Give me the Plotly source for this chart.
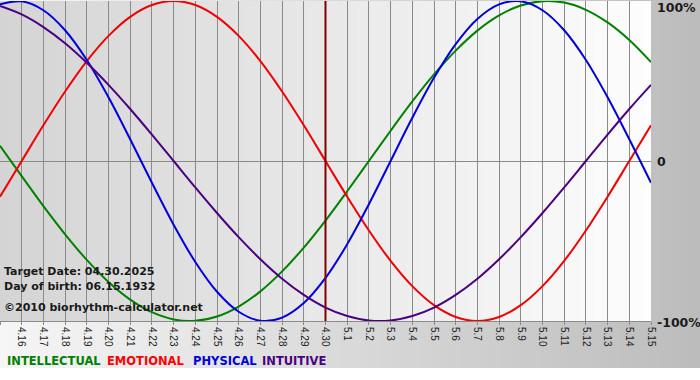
import plotly.graph_objects as go

# ---- data ----
day_labels = ["4.15", "4.16", "4.17", "4.18", "4.19", "4.20", "4.21", "4.22", "4.23", "4.24",
              "4.25", "4.26", "4.27", "4.28", "4.29", "4.30", "5.1", "5.2", "5.3", "5.4",
              "5.5", "5.6", "5.7", "5.8", "5.9", "5.10", "5.11", "5.12", "5.13", "5.14", "5.15"]

physical = [0.979, 0.998, 0.942, 0.817, 0.631, 0.398, 0.136, -0.136, -0.398, -0.631,
            -0.817, -0.942, -0.998, -0.979, -0.888, -0.731, -0.520, -0.270, 0.000, 0.270,
            0.520, 0.731, 0.888, 0.979, 0.998, 0.942, 0.817, 0.631, 0.398, 0.136, -0.136]

emotional = [-0.223, 0.000, 0.223, 0.434, 0.624, 0.782, 0.901, 0.975, 1.000, 0.975,
             0.901, 0.782, 0.624, 0.434, 0.223, 0.000, -0.223, -0.434, -0.624, -0.782,
             -0.901, -0.975, -1.000, -0.975, -0.901, -0.782, -0.624, -0.434, -0.223, 0.000, 0.223]

intellectual = [0.095, -0.095, -0.282, -0.458, -0.618, -0.756, -0.866, -0.945, -0.990, -0.999,
                -0.972, -0.910, -0.815, -0.690, -0.541, -0.372, -0.189, 0.000, 0.189, 0.372,
                0.541, 0.690, 0.815, 0.910, 0.972, 0.999, 0.990, 0.945, 0.866, 0.756, 0.618]

intuitive = [0.969, 0.916, 0.837, 0.736, 0.614, 0.476, 0.325, 0.165, 0.000, -0.165,
             -0.325, -0.476, -0.614, -0.736, -0.837, -0.916, -0.969, -0.997, -0.997, -0.969,
             -0.916, -0.837, -0.736, -0.614, -0.476, -0.325, -0.165, 0.000, 0.165, 0.325, 0.476]

series_names = ["INTELLECTUAL", "EMOTIONAL", "PHYSICAL", "INTUITIVE"]
target_index = 15  # 4.30
info_lines = ["Target Date: 04.30.2025", "Day of birth: 06.15.1932"]
copyright_text = "\u00a92010 biorhythm-calculator.net"
y_labels = ["100%", "0", "-100%"]

# ---- figure ----
W, H = 700, 380
ML, MR, MT, MB = 0, 49, 1, 59
PW = W - ML - MR
PH = H - MT - MB

def px_x(px):
    return (px - ML) / PW

def px_y(py):
    return (H - MB - py) / PH

def lerp_hex(c0, c1, t):
    a = [int(c0[i:i + 2], 16) for i in (1, 3, 5)]
    b = [int(c1[i:i + 2], 16) for i in (1, 3, 5)]
    c = [round(a[k] + (b[k] - a[k]) * t) for k in range(3)]
    return "#%02x%02x%02x" % tuple(c)

shapes = []
# outer background gradient (light left -> darker right)
n_out = 70
for i in range(n_out):
    x0 = W * i / n_out
    x1 = W * (i + 1) / n_out + 1
    shapes.append(dict(type="rect", xref="paper", yref="paper",
                       x0=px_x(x0), x1=px_x(x1), y0=px_y(368), y1=px_y(-2),
                       fillcolor=lerp_hex("#f6f6f6", "#bcbcbc", (i + 0.5) / n_out),
                       line=dict(width=0), layer="below"))
# plot area gradient (darker left -> light right)
n_in = 93
for i in range(n_in):
    x0 = PW * i / n_in
    x1 = min(PW * (i + 1) / n_in + 1, PW)
    shapes.append(dict(type="rect", xref="paper", yref="paper",
                       x0=x0 / PW, x1=x1 / PW, y0=0, y1=1,
                       fillcolor=lerp_hex("#d4d4d4", "#fdfdfd", (i + 0.5) / n_in),
                       line=dict(width=0), layer="below"))
# target date marker
shapes.append(dict(type="line", xref="x", yref="paper", x0=target_index, x1=target_index,
                   y0=0, y1=1, line=dict(color="#800000", width=2), layer="above",
                   opacity=1))

x_idx = list(range(len(day_labels)))
colors = {"INTELLECTUAL": "#008000", "EMOTIONAL": "#f00000",
          "PHYSICAL": "#0000dd", "INTUITIVE": "#4b0082"}
values = {"INTELLECTUAL": intellectual, "EMOTIONAL": emotional,
          "PHYSICAL": physical, "INTUITIVE": intuitive}

fig = go.Figure()
for name in series_names:
    fig.add_trace(go.Scatter(x=x_idx, y=values[name], mode="lines", name=name,
                             line=dict(color=colors[name], width=2, shape="spline",
                                       smoothing=1.0),
                             hoverinfo="skip"))

annotations = []
for i, t in enumerate(info_lines):
    annotations.append(dict(text="<b>%s</b>" % t, xref="paper", yref="paper",
                            x=px_x(2), y=px_y([271, 286][i]), xanchor="left",
                            yanchor="middle", showarrow=False,
                            font=dict(family="DejaVu Sans", size=11, color="#1a1a1a")))
annotations.append(dict(text="<b>%s</b>" % copyright_text, xref="paper", yref="paper",
                        x=px_x(2), y=px_y(307), xanchor="left", yanchor="middle",
                        showarrow=False,
                        font=dict(family="DejaVu Sans", size=11, color="#1a1a1a")))
for lab, py in zip(y_labels, [7, 161, 322]):
    annotations.append(dict(text="<b>%s</b>" % lab, xref="paper", yref="paper",
                            x=px_x(655), y=px_y(py), xanchor="left", yanchor="middle",
                            showarrow=False,
                            font=dict(family="DejaVu Sans", size=12.5, color="#1a1a1a")))
for name, lx in zip(series_names, [5, 105, 191, 260]):
    annotations.append(dict(text="<b>%s</b>" % name, xref="paper", yref="paper",
                            x=px_x(lx), y=px_y(361), xanchor="left", yanchor="middle",
                            showarrow=False,
                            font=dict(family="DejaVu Sans", size=11.5,
                                      color=colors[name] if name != "EMOTIONAL" else "#ff0000")))

fig.update_layout(
    width=W, height=H, autosize=False,
    margin=dict(l=ML, r=MR, t=MT, b=MB, pad=0),
    paper_bgcolor="#ffffff", plot_bgcolor="rgba(0,0,0,0)",
    showlegend=False, shapes=shapes, annotations=annotations,
    xaxis=dict(range=[0, len(day_labels) - 1], tickmode="array", tickvals=x_idx,
               ticktext=day_labels, tickangle=90, showgrid=True, gridcolor="#8a8a8a",
               gridwidth=1, ticks="outside", ticklen=3, tickcolor="#8a8a8a",
               showline=True, linecolor="#8a8a8a", linewidth=1, zeroline=False,
               tickfont=dict(family="Liberation Sans", size=10, color="#222222"),
               fixedrange=True),
    yaxis=dict(range=[-1, 1], showgrid=False, zeroline=True, zerolinecolor="#8a8a8a",
               zerolinewidth=1, showticklabels=False, ticks="", fixedrange=True),
)

fig.write_html("out.html", config={"displayModeBar": False},
               post_script="document.body.style.margin='0';document.body.style.overflow='hidden';")
